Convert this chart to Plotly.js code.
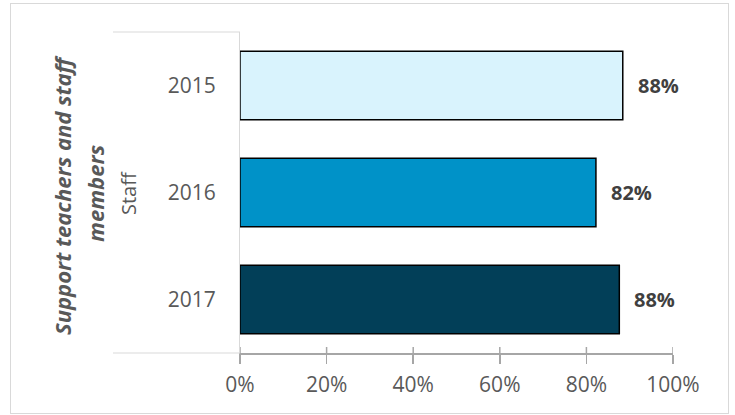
<!DOCTYPE html>
<html>
<head>
<meta charset="utf-8">
<script src="https://cdn.plot.ly/plotly-3.0.1.min.js"></script>
<style>
html,body{margin:0;padding:0;background:#fff;}
#wrap{position:relative;width:735px;height:415px;}
#chart{width:735px;height:415px;}
#frame{position:absolute;left:10px;top:3px;width:717px;height:409px;border:1px solid #D9D9D9;pointer-events:none;}
</style>
</head>
<body>
<div id="wrap"><div id="chart"></div><div id="frame"></div></div>
<script>
// Data
const years = ["2015", "2016", "2017"];
const values = [88.4, 82.2, 87.6];
const barColors = ["#D9F3FD", "#0092C8", "#023F58"];
const groupLabel = "Staff";
const titleLines = ["Support teachers and staff", "members"];
const xTickVals = [0, 20, 40, 60, 80, 100];
const xTickText = ["0%", "20%", "40%", "60%", "80%", "100%"];

const W = 735, H = 415;
const L = 240, R = 62, T = 32, B = 62;
const pw = W - L - R, ph = H - T - B;
const toPX = x => (x - L) / pw;
const toPY = y => (H - B - y) / ph;

const font = "Open Sans, sans-serif";
const grey = "#595959";

const trace = {
  type: "bar",
  orientation: "h",
  y: years,
  x: values,
  width: 0.64,
  marker: {color: barColors, line: {color: "#000000", width: 1.5}},
  hoverinfo: "none"
};

// on a category axis, annotation positions are category indices
const annotations = years.map((y, i) => ({
  x: values[i], y: i, xref: "x", yref: "y",
  text: "<b>" + Math.round(values[i]) + "%</b>",
  showarrow: false, xanchor: "left", xshift: 13,
  font: {family: font, size: 20, color: "#404040"}
}));

annotations.push({
  x: toPX(129), y: toPY(193), xref: "paper", yref: "paper",
  text: groupLabel, textangle: -90, showarrow: false,
  xanchor: "center", yanchor: "middle",
  font: {family: font, size: 20, color: grey}
});
annotations.push({
  x: toPX(62), y: toPY(195), xref: "paper", yref: "paper",
  text: "<b><i>" + titleLines[0] + "</i></b>", textangle: -90, showarrow: false,
  xanchor: "center", yanchor: "middle",
  font: {family: font, size: 22, color: grey}
});
annotations.push({
  x: toPX(95), y: toPY(194), xref: "paper", yref: "paper",
  text: "<b><i>" + titleLines[1] + "</i></b>", textangle: -90, showarrow: false,
  xanchor: "center", yanchor: "middle",
  font: {family: font, size: 22, color: grey}
});

const shapes = [
  {type: "line", xref: "paper", yref: "paper", x0: toPX(113), x1: 0, y0: 1, y1: 1, line: {color: "#D9D9D9", width: 1}},
  {type: "line", xref: "paper", yref: "paper", x0: toPX(113), x1: 0, y0: 0, y1: 0, line: {color: "#D9D9D9", width: 1}}
];
xTickVals.forEach(v => shapes.push({
  type: "line", xref: "x", yref: "paper", x0: v, x1: v, y0: 0, y1: 6 / ph,
  line: {color: "#A6A6A6", width: 1.5}
}));

const layout = {
  width: W, height: H,
  margin: {l: L, r: R, t: T, b: B, pad: 0},
  paper_bgcolor: "#ffffff", plot_bgcolor: "#ffffff",
  showlegend: false,
  xaxis: {
    range: [0, 100], fixedrange: true,
    tickvals: xTickVals, ticktext: xTickText,
    showgrid: false, zeroline: false,
    showline: true, linecolor: "#A6A6A6", linewidth: 1.5,
    ticks: "outside", ticklen: 9, tickcolor: "#A6A6A6", tickwidth: 1.5,
    ticklabelstandoff: 3,
    tickfont: {family: font, size: 21, color: grey}
  },
  yaxis: {
    type: "category", categoryorder: "array", categoryarray: years,
    range: [2.5, -0.5], autorange: false, fixedrange: true,
    showgrid: false, zeroline: false,
    showline: true, linecolor: "#D9D9D9", linewidth: 1,
    ticks: "outside", ticklen: 19, tickcolor: "rgba(0,0,0,0)",
    tickfont: {family: font, size: 21, color: grey}
  },
  annotations: annotations,
  shapes: shapes
};

Plotly.newPlot("chart", [trace], layout, {displayModeBar: false, staticPlot: true});
</script>
</body>
</html>
